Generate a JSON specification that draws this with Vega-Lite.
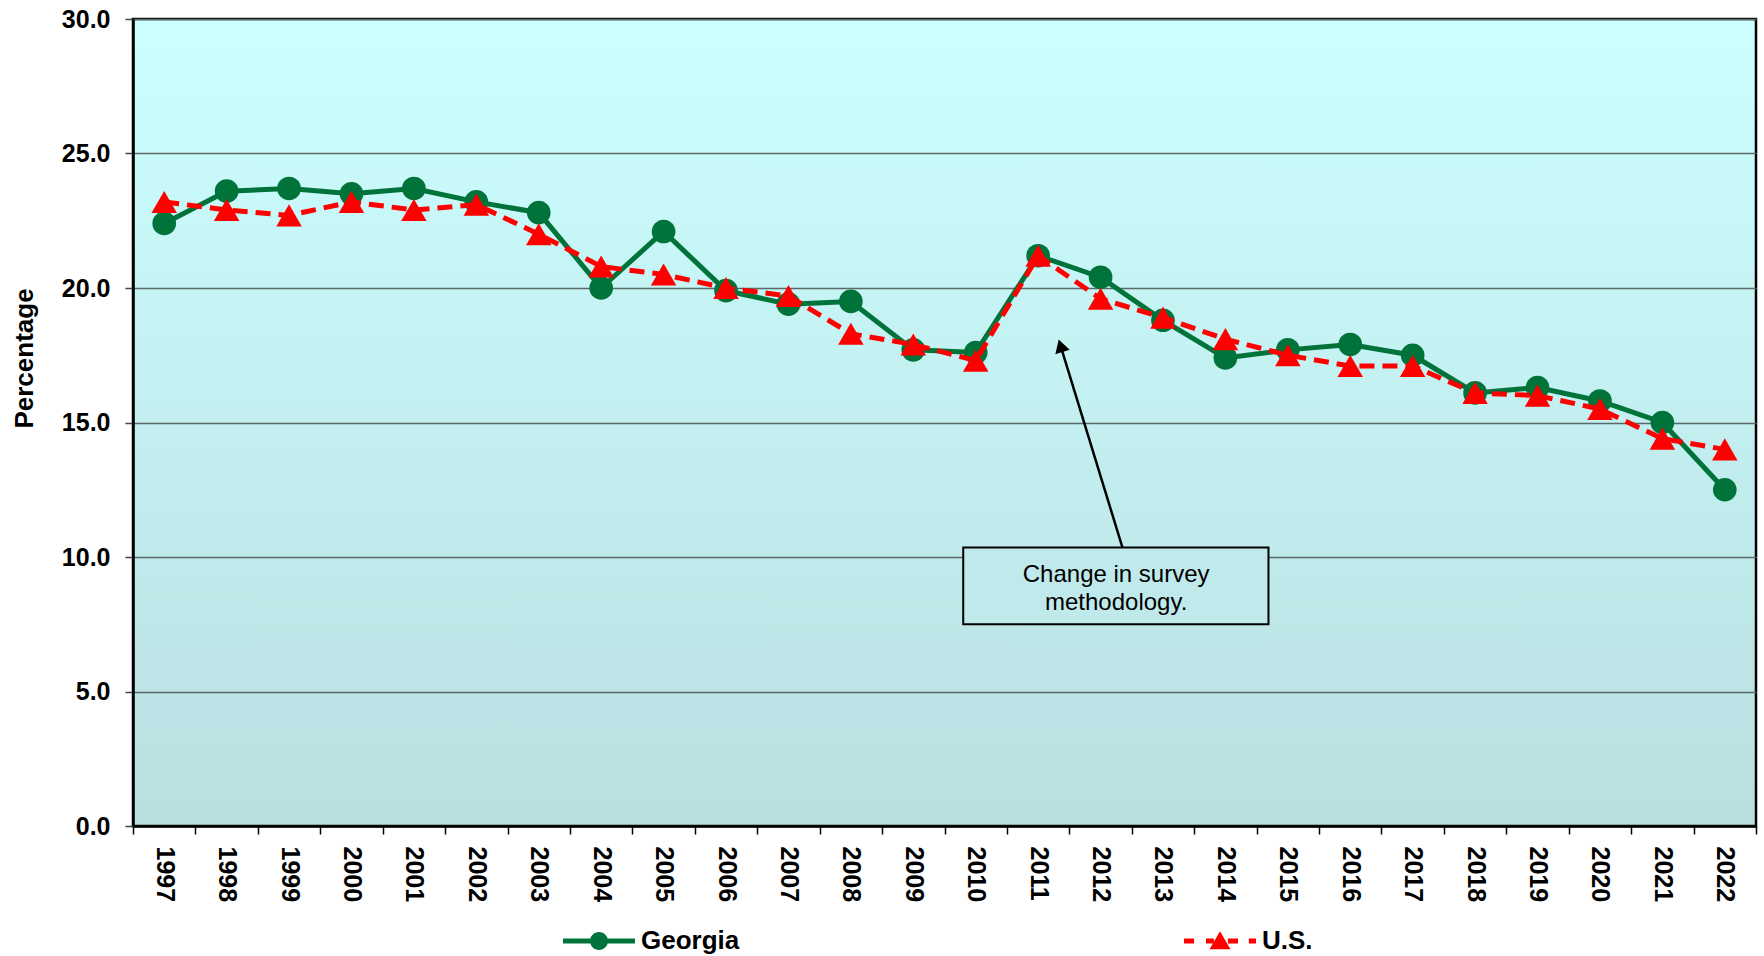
{
  "$schema": "https://vega.github.io/schema/vega-lite/v6.json",
  "width": 1623,
  "height": 807,
  "autosize": {"type": "none"},
  "padding": {"left": 133, "top": 19, "right": 8, "bottom": 130},
  "background": "white",
  "view": {
    "fill": {"gradient": "linear", "x1": 0, "y1": 0, "x2": 0, "y2": 1,
      "stops": [{"offset": 0, "color": "#CCFFFF"}, {"offset": 1, "color": "#BADFE1"}]},
    "stroke": "black",
    "strokeWidth": 2.5
  },
  "config": {
    "font": "Liberation Sans",
    "axisX": {
      "labelFont": "Liberation Sans", "labelFontSize": 25, "labelFontWeight": "bold", "labelColor": "black",
      "labelAngle": 90, "labelPadding": 12, "labelOverlap": false,
      "tickSize": 8, "tickColor": "black", "tickWidth": 1.5, "tickBand": "extent",
      "domainColor": "black", "domainWidth": 2.5, "grid": false, "title": null
    },
    "axisY": {
      "labelFont": "Liberation Sans", "labelFontSize": 25, "labelFontWeight": "bold", "labelColor": "black",
      "labelPadding": 15, "tickSize": 8, "tickColor": "#444444", "tickWidth": 1.5,
      "domainColor": "black", "domainWidth": 2.5,
      "grid": true, "gridColor": "#5a6868", "gridWidth": 1.5,
      "titleFont": "Liberation Sans", "titleFontSize": 26, "titleFontWeight": "bold", "titleColor": "black",
      "titlePadding": 24, "titleY": 339
    }
  },
  "datasets": {
    "rates": [
      {"year": 1997, "series": "Georgia", "value": 22.4},
      {"year": 1998, "series": "Georgia", "value": 23.6},
      {"year": 1999, "series": "Georgia", "value": 23.7},
      {"year": 2000, "series": "Georgia", "value": 23.5},
      {"year": 2001, "series": "Georgia", "value": 23.7},
      {"year": 2002, "series": "Georgia", "value": 23.2},
      {"year": 2003, "series": "Georgia", "value": 22.8},
      {"year": 2004, "series": "Georgia", "value": 20.0},
      {"year": 2005, "series": "Georgia", "value": 22.1},
      {"year": 2006, "series": "Georgia", "value": 19.9},
      {"year": 2007, "series": "Georgia", "value": 19.4},
      {"year": 2008, "series": "Georgia", "value": 19.5},
      {"year": 2009, "series": "Georgia", "value": 17.7},
      {"year": 2010, "series": "Georgia", "value": 17.6},
      {"year": 2011, "series": "Georgia", "value": 21.2},
      {"year": 2012, "series": "Georgia", "value": 20.4},
      {"year": 2013, "series": "Georgia", "value": 18.8},
      {"year": 2014, "series": "Georgia", "value": 17.4},
      {"year": 2015, "series": "Georgia", "value": 17.7},
      {"year": 2016, "series": "Georgia", "value": 17.9},
      {"year": 2017, "series": "Georgia", "value": 17.5},
      {"year": 2018, "series": "Georgia", "value": 16.1},
      {"year": 2019, "series": "Georgia", "value": 16.3},
      {"year": 2020, "series": "Georgia", "value": 15.8},
      {"year": 2021, "series": "Georgia", "value": 15.0},
      {"year": 2022, "series": "Georgia", "value": 12.5},
      {"year": 1997, "series": "U.S.", "value": 23.2},
      {"year": 1998, "series": "U.S.", "value": 22.9},
      {"year": 1999, "series": "U.S.", "value": 22.7},
      {"year": 2000, "series": "U.S.", "value": 23.2},
      {"year": 2001, "series": "U.S.", "value": 22.9},
      {"year": 2002, "series": "U.S.", "value": 23.1},
      {"year": 2003, "series": "U.S.", "value": 22.0},
      {"year": 2004, "series": "U.S.", "value": 20.8},
      {"year": 2005, "series": "U.S.", "value": 20.5},
      {"year": 2006, "series": "U.S.", "value": 20.0},
      {"year": 2007, "series": "U.S.", "value": 19.7},
      {"year": 2008, "series": "U.S.", "value": 18.3},
      {"year": 2009, "series": "U.S.", "value": 17.9},
      {"year": 2010, "series": "U.S.", "value": 17.3},
      {"year": 2011, "series": "U.S.", "value": 21.2},
      {"year": 2012, "series": "U.S.", "value": 19.6},
      {"year": 2013, "series": "U.S.", "value": 18.9},
      {"year": 2014, "series": "U.S.", "value": 18.1},
      {"year": 2015, "series": "U.S.", "value": 17.5},
      {"year": 2016, "series": "U.S.", "value": 17.1},
      {"year": 2017, "series": "U.S.", "value": 17.1},
      {"year": 2018, "series": "U.S.", "value": 16.1},
      {"year": 2019, "series": "U.S.", "value": 16.0},
      {"year": 2020, "series": "U.S.", "value": 15.5},
      {"year": 2021, "series": "U.S.", "value": 14.4},
      {"year": 2022, "series": "U.S.", "value": 14.0}
    ],
    "note": [
      {"x0": 2009.8, "x1": 2014.69, "v0": 10.35, "v1": 7.5, "xc": 2012.25, "vc": 9.32, "label": ["Change in survey", "methodology."]}
    ],
    "arrow": [
      {"xa": 2012.35, "va": 10.36, "xb": 2011.36, "vb": 17.85}
    ]
  },
  "layer": [
    {
      "layer": [
        {
          "data": {"name": "rates"},
          "transform": [{"filter": "datum.series === 'Georgia'"}],
          "mark": {"type": "line", "strokeWidth": 5},
          "encoding": {
            "x": {"field": "year", "type": "ordinal", "bandPosition": 0.5,
              "scale": {"type": "band", "paddingInner": 0, "paddingOuter": 0}},
            "y": {"field": "value", "type": "quantitative", "title": "Percentage",
              "scale": {"domain": [0, 30], "nice": false, "zero": true},
              "axis": {"values": [0, 5, 10, 15, 20, 25, 30], "format": ".1f"}},
            "color": {"field": "series", "type": "nominal",
              "scale": {"domain": ["Georgia", "U.S."], "range": ["#00733A", "#FF0000"]},
              "legend": {
                "orient": "none", "legendX": 430, "legendY": 886, "direction": "horizontal",
                "title": null, "padding": 0, "symbolSize": 5184, "symbolStrokeWidth": 0,
                "labelFont": "Liberation Sans", "labelFontSize": 26, "labelFontWeight": "bold",
                "labelColor": "black", "labelOffset": 6, "columnPadding": 444,
                "encode": {
                  "symbols": {
                    "update": {
                      "shape": {"signal": "datum.value === 'Georgia' ? 'M-1,-0.07H1V0.07H-1Z M-0.25,0A0.25,0.25 0 1,1 0.25,0A0.25,0.25 0 1,1 -0.25,0Z' : 'M-1,-0.07H-0.72V0.07H-1Z M-0.39,-0.07H-0.17V0.07H-0.39Z M0.22,-0.07H0.5V0.07H0.22Z M0.8,-0.07H1V0.07H0.8Z M0,-0.27L0.29,0.23H-0.29Z'"},
                      "fill": {"signal": "datum.value === 'Georgia' ? '#00733A' : '#FF0000'"},
                      "stroke": {"value": "transparent"},
                      "strokeWidth": {"value": 0},
                      "opacity": {"value": 1}
                    }
                  }
                }
              }}
          }
        },
        {
          "data": {"name": "rates"},
          "transform": [{"filter": "datum.series === 'Georgia'"}],
          "mark": {"type": "point", "shape": "circle", "filled": true, "opacity": 1, "size": 560},
          "encoding": {
            "x": {"field": "year", "type": "ordinal", "bandPosition": 0.5},
            "y": {"field": "value", "type": "quantitative", "title": "Percentage"},
            "color": {"field": "series", "type": "nominal"}
          }
        },
        {
          "data": {"name": "rates"},
          "transform": [{"filter": "datum.series === 'U.S.'"}],
          "mark": {"type": "line", "strokeWidth": 5, "strokeDash": [15, 8]},
          "encoding": {
            "x": {"field": "year", "type": "ordinal", "bandPosition": 0.5},
            "y": {"field": "value", "type": "quantitative", "title": "Percentage"},
            "color": {"field": "series", "type": "nominal"}
          }
        },
        {
          "data": {"name": "rates"},
          "transform": [{"filter": "datum.series === 'U.S.'"}],
          "mark": {"type": "point", "shape": "triangle-up", "filled": true, "opacity": 1, "size": 650},
          "encoding": {
            "x": {"field": "year", "type": "ordinal", "bandPosition": 0.5},
            "y": {"field": "value", "type": "quantitative", "title": "Percentage"},
            "color": {"field": "series", "type": "nominal"}
          }
        }
      ]
    },
    {
      "layer": [
        {
          "data": {"name": "note"},
          "mark": {"type": "rect", "fill": "#C0E9EB", "stroke": "black", "strokeWidth": 2},
          "encoding": {
            "x": {"field": "x0", "type": "quantitative", "axis": null,
              "scale": {"domain": [1996.5, 2022.5], "nice": false, "zero": false}},
            "x2": {"field": "x1"},
            "y": {"field": "v0", "type": "quantitative", "title": "Percentage"},
            "y2": {"field": "v1"}
          }
        },
        {
          "data": {"name": "note"},
          "mark": {"type": "text", "font": "Liberation Sans", "fontSize": 24, "lineHeight": 28, "align": "center", "baseline": "middle", "color": "black"},
          "encoding": {
            "x": {"field": "xc", "type": "quantitative", "axis": null},
            "y": {"field": "vc", "type": "quantitative", "title": "Percentage"},
            "text": {"field": "label"}
          }
        },
        {
          "data": {"name": "arrow"},
          "mark": {"type": "rule", "color": "black", "strokeWidth": 2.5},
          "encoding": {
            "x": {"field": "xa", "type": "quantitative", "axis": null},
            "x2": {"field": "xb"},
            "y": {"field": "va", "type": "quantitative", "title": "Percentage"},
            "y2": {"field": "vb"}
          }
        },
        {
          "data": {"name": "arrow"},
          "mark": {"type": "point", "shape": "triangle-up", "filled": true, "color": "black", "opacity": 1, "size": 225, "angle": -17},
          "encoding": {
            "x": {"field": "xb", "type": "quantitative", "axis": null},
            "y": {"field": "vb", "type": "quantitative", "title": "Percentage"}
          }
        }
      ]
    }
  ],
  "resolve": {"scale": {"x": "independent"}}
}
